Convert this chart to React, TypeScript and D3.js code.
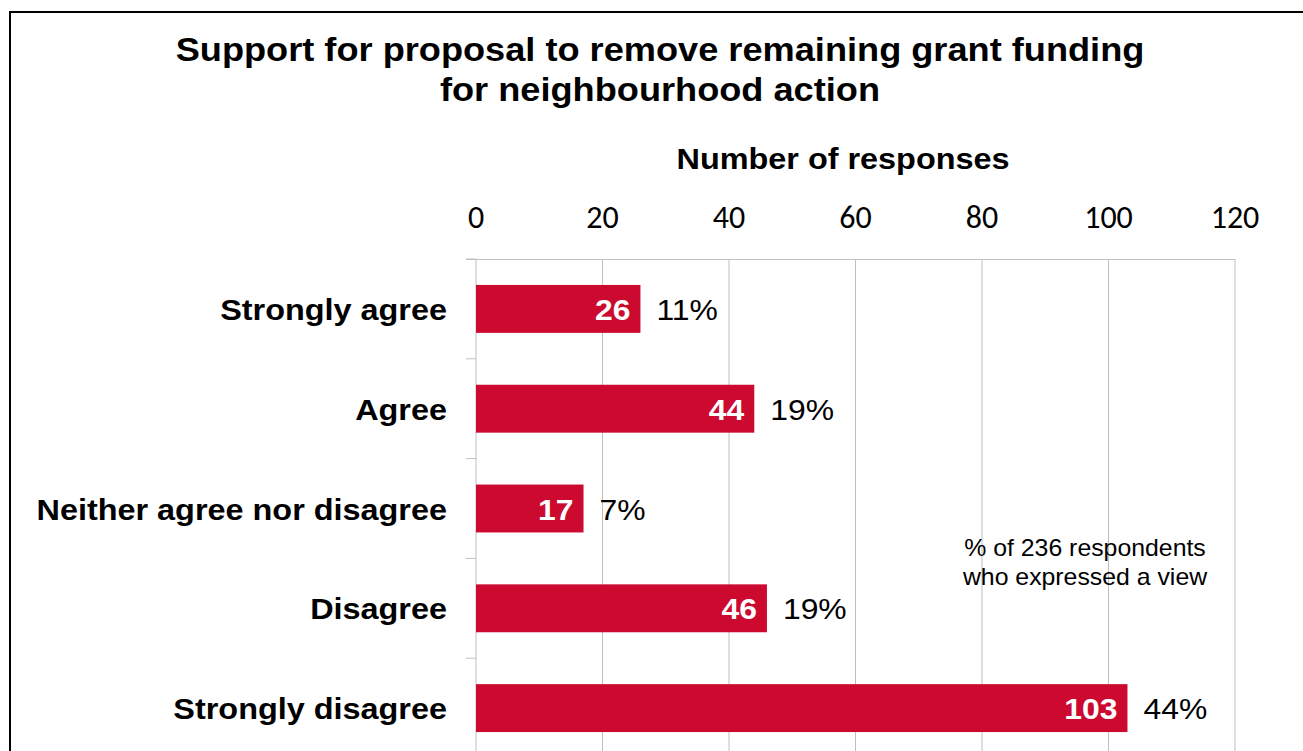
import React from "react";
import * as d3 from "d3";

const categories = ["Strongly agree", "Agree", "Neither agree nor disagree", "Disagree", "Strongly disagree"];
const values = [26, 44, 17, 46, 103];
const percents = ["11%", "19%", "7%", "19%", "44%"];
const xTicks = [0, 20, 40, 60, 80, 100, 120];
const titleLines = ["Support for proposal to remove remaining grant funding", "for neighbourhood action"];
const axisTitle = "Number of responses";
const noteLines = ["% of 236 respondents", "who expressed a view"];

const W = 1303;
const H = 751;

export default function App() {
  const x = d3.scaleLinear().domain([0, 120]).range([476, 1235]);
  const y = d3.scaleBand<string>().domain(categories).range([259, 758]).paddingInner(0.52).paddingOuter(0.26);
  const step = y.step();
  const bandEdges = d3.range(categories.length + 1).map((i) => 259 + i * step);
  const arial = "Arial, 'Liberation Sans', sans-serif";
  const cal = "Carlito, Calibri, 'Open Sans', sans-serif";
  const red = "#CC0A2F";
  const sx = 1.08;
  const T = (props: { x: number; y: number; size: number; anchor: string; weight?: string; fill?: string; family?: string; children: React.ReactNode }) => (
    <g transform={`translate(${props.x},${props.y}) scale(${sx},1)`}>
      <text x={0} y={0} textAnchor={props.anchor} fontFamily={props.family || arial} fontWeight={props.weight || "normal"} fontSize={props.size} fill={props.fill || "#000"}>
        {props.children}
      </text>
    </g>
  );
  return (
    <svg width={W} height={H} style={{ position: "absolute", left: 0, top: 0, display: "block" }}>
      <rect x={0} y={0} width={W} height={H} fill="#fff" />
      <rect x={10} y={12} width={W + 20} height={H + 20} fill="none" stroke="#000" strokeWidth={2} />
      {titleLines.map((t, i) => (
        <T key={t} x={660} y={61 + i * 40} anchor="middle" weight="bold" size={33.5}>
          {t}
        </T>
      ))}
      <T x={843} y={169} anchor="middle" weight="bold" size={30}>
        {axisTitle}
      </T>
      {xTicks.map((t) => (
        <g key={t}>
          <line x1={x(t)} x2={x(t)} y1={259} y2={H} stroke="#BFBFBF" strokeWidth={1} />
          <text x={x(t)} y={228} textAnchor="middle" fontFamily={cal} fontSize={32} fill="#000">
            {t}
          </text>
        </g>
      ))}
      <line x1={466} x2={x(120)} y1={259.5} y2={259.5} stroke="#BFBFBF" strokeWidth={1} />
      {bandEdges.map((b, i) => (
        <line key={i} x1={466} x2={476} y1={b} y2={b} stroke="#BFBFBF" strokeWidth={1} />
      ))}
      {categories.map((c, i) => {
        const yy = y(c)!;
        const bw = y.bandwidth();
        const cy = yy + bw / 2;
        return (
          <g key={c}>
            <rect x={x(0)} y={yy} width={x(values[i]) - x(0)} height={bw} fill={red} />
            <T x={447} y={cy + 11} anchor="end" weight="bold" size={30}>
              {c}
            </T>
            <T x={x(values[i]) - 10} y={cy + 11} anchor="end" weight="bold" size={29.5} fill="#fff">
              {values[i]}
            </T>
            <T x={x(values[i]) + 16} y={cy + 11} anchor="start" size={29.5}>
              {percents[i]}
            </T>
          </g>
        );
      })}
      {noteLines.map((t, i) => (
        <T key={t} x={1085} y={556 + i * 28.5} anchor="middle" size={23}>
          {t}
        </T>
      ))}
    </svg>
  );
}
